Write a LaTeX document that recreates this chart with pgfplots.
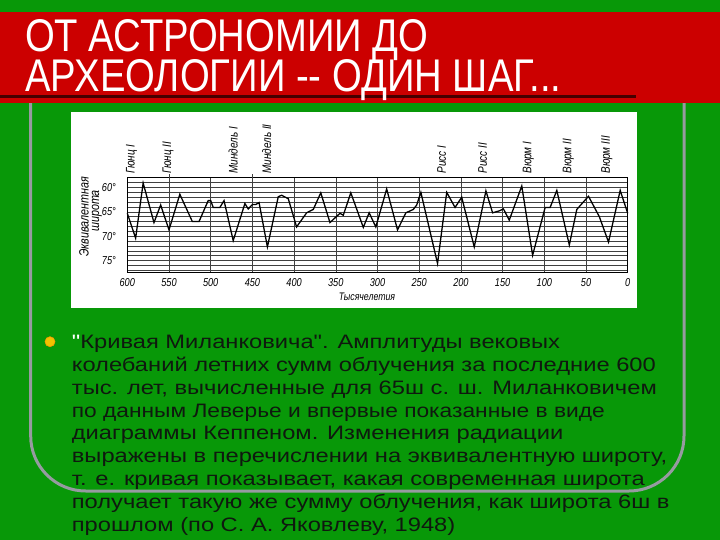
\documentclass[border=0pt]{standalone}
\usepackage{pgfplots}
\pgfplotsset{compat=1.18}
\usepackage{fontspec}
\setmainfont{Liberation Sans}
\newfontfamily\titlefont[FakeStretch=0.835,Ligatures=TeXOff]{Liberation Sans}
\newfontfamily\bodyfont[FakeStretch=1.22,Ligatures=TeXOff]{Liberation Sans}
\newfontfamily\chartfont[FakeStretch=0.8]{Liberation Sans}
\definecolor{bggreen}{RGB}{8,152,8}
\definecolor{barred}{RGB}{204,0,0}
\definecolor{linegray}{RGB}{150,155,160}
\definecolor{bulletyellow}{RGB}{240,196,0}
\definecolor{ulcol}{RGB}{70,0,0}
\definecolor{bodytext}{RGB}{15,25,15}
\begin{document}
\begin{tikzpicture}
\begin{scope}[x=1bp,y=-1bp]
\fill[bggreen] (0,0) rectangle (720,540);
\draw[linegray, line width=3bp, rounded corners=55bp] (30.7,40) rectangle (684,491);
\fill[barred] (0,12) rectangle (720,103);
\fill[ulcol] (0,95.5) rectangle (636,98.5);
\node[anchor=base west, inner sep=0, text depth=0pt, text=white, font=\titlefont\fontsize{46}{46}\selectfont] at (25,52) {ОТ АСТРОНОМИИ ДО};
\node[anchor=base west, inner sep=0, text height=33bp, text=white, font=\titlefont\fontsize{46}{46}\selectfont] at (25,92) {АРХЕОЛОГИИ -{}- ОДИН ШАГ...};
\fill[white] (71,112) rectangle (637,308);
\end{scope}
\begin{axis}[
  at={(127.3bp,-272.3bp)}, anchor=south west,
  scale only axis, width=500.4bp, height=94.6bp,
  xmin=0, xmax=600, x dir=reverse,
  ymin=58, ymax=77.4, y dir=reverse,
  xtick={0,50,...,600}, ytick={60,65,70,75}, minor ytick={58,59,...,77},
  grid=both,
  major grid style={black!75, line width=0.45bp},
  minor grid style={black!75, line width=0.45bp},
  axis line style={black, line width=1bp},
  major tick length=0pt, minor tick length=0pt,
  /pgf/number format/assume math mode=true,
  xticklabel={\chartfont\itshape\fontsize{11.5}{11.5}\selectfont\pgfmathprintnumber{\tick}},
  yticklabel={\chartfont\itshape\fontsize{11.5}{11.5}\selectfont\pgfmathprintnumber{\tick}°},
  xticklabel style={yshift=-3bp},
  yticklabel style={xshift=-8bp},
  clip=false,
]
\addplot[black, line width=1.3bp] coordinates {
(600,65.3) (590,70.4) (581,59.1) (568,67.2) (560,63.6) (550,68.7) (537,61.4) (522,67.0) (514,67.0) (503,62.7) (500,62.7) (497,64.1) (489,64.1) (484,62.7) (473,70.9) (459,63.3) (455,64.4) (450,63.5) (446,63.5) (442,63.1) (432,72.2) (419,61.9) (415,61.6) (407,62.3) (397,68.1) (385,65.2) (377,64.5) (368,61.1) (357,67.2) (345,65.3) (341,65.7) (332,61.1) (317,68.2) (310,65.2) (302,68.1) (289,60.3) (276,68.7) (266,65.2) (257,64.5) (253,63.6) (248,61.0) (228,75.6) (217,61.0) (207,64.1) (199,62.0) (184,72.2) (170,60.7) (162,65.2) (154,64.8) (149,64.4) (142,66.7) (127,59.7) (114,73.9) (99,64.1) (93,64.1) (85,60.6) (70,71.8) (61,64.5) (47,61.8) (34,66.0) (23,71.2) (9,60.6) (0,65.3)
};
\draw[black!75, line width=0.6bp] (axis cs:550,58) -- (axis cs:550,57.2);
\draw[black!75, line width=0.6bp] (axis cs:450,58) -- (axis cs:450,57.2);
\foreach \v/\t in {595/Гюнц I, 551/Гюнц II, 473/Миндель I, 433/Миндель II, 223/Рисс I, 174/Рисс II, 119/Вюрм I, 71/Вюрм II, 25/Вюрм III}{
  \edef\temp{\noexpand\node[rotate=90, anchor=west, inner sep=0.5bp, font=\noexpand\chartfont\noexpand\itshape\noexpand\fontsize{12.5}{12.5}\noexpand\selectfont] at (axis cs:\v,57.3) {\t};}
  \temp
}
\end{axis}
\begin{scope}[x=1bp,y=-1bp]
\node[font=\chartfont\itshape\fontsize{11}{11}\selectfont] at (367,297) {Тысячелетия};
\node[rotate=90, font=\chartfont\itshape\fontsize{13.5}{13.5}\selectfont] at (84,216.7) {Эквивалентная};
\node[rotate=90, font=\chartfont\itshape\fontsize{13.5}{13.5}\selectfont] at (97,211) {широта};
\fill[bulletyellow, draw=orange!80!yellow, line width=0.6bp] (50,341.7) circle (5);
\begin{scope}[every node/.style={anchor=base west, inner sep=0, text=bodytext, font=\bodyfont\fontsize{19.5}{19.5}\selectfont}]
\node at (71.7,348.3) {\textcolor{white}{"}Кривая Миланковича". Амплитуды вековых};
\node at (71.7,371.2) {колебаний летних сумм облучения за последние 600};
\node at (71.7,394.1) {тыс. лет, вычисленные для 65ш с. ш. Миланковичем};
\node at (71.7,417.0) {\scalebox{0.96}[1]{по данным Леверье и впервые показанные в виде}};
\node at (71.7,439.9) {диаграммы Кеппеном. Изменения радиации};
\node at (71.7,462.8) {выражены в перечислении на эквивалентную широту,};
\node at (71.7,485.7) {т. е. кривая показывает, какая современная широта};
\node at (71.7,508.6) {получает такую же сумму облучения, как широта 6ш в};
\node at (71.7,531.5) {прошлом (по С. А. Яковлеву, 1948)};
\end{scope}
\end{scope}
\end{tikzpicture}
\end{document}
